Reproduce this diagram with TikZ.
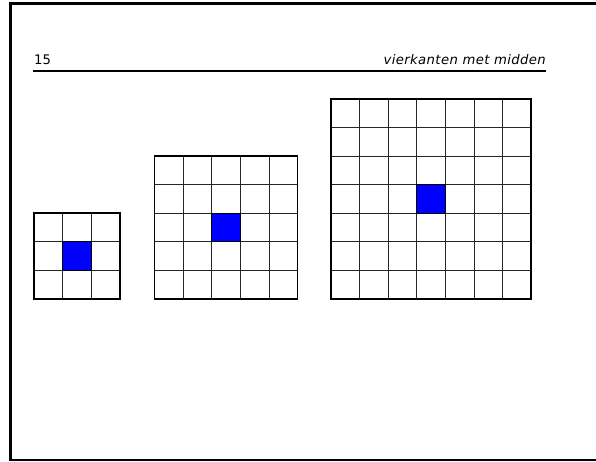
\documentclass[tikz,border=0pt]{standalone}
\usepackage{fontspec}
\setmainfont{DejaVu Sans}
\newfontfamily\headfont[LetterSpace=3]{DejaVu Sans}
\usepackage{xcolor}
\usepackage{tikz}
\usetikzlibrary{positioning}
\definecolor{midcol}{RGB}{0,0,255}

\begin{document}
\begin{tikzpicture}[
    x=1pt, y=-1pt,
    %% ── Page and header styles ──
    frame/.style={line width=2.8pt, color=black},
    headrule/.style={line width=2pt, color=black},
    headtext/.style={inner sep=0pt, font=\fontsize{13.2}{16}\selectfont},
    %% ── Grid styles ──
    cellline/.style={line width=0.8pt, color=black!85},
    outer/.style={line width=1.6pt, color=black},
    midcell/.style={fill=midcol, draw=black, line width=0.8pt},
]
\useasboundingbox (0,0) rectangle (596,462);

% ── Page frame (right side runs off the page) ──
\draw[frame] (600,3.5) -- (10.5,3.5) -- (10.5,460) -- (600,460);

% ── Header ──
\node[headtext, anchor=base west] (pagenum) at (34,65)  {15};
\node[headtext, anchor=base east] (title)   at (546,65) {\headfont\itshape vierkanten met midden};
\draw[headrule] (33,70.7) -- (546,70.7);

% ── Squares: size / left / top ──
\def\cell{28.6}
\foreach \n/\xo/\yo in {3/34/213.2, 5/154.5/156, 7/331/98.8} {
    \pgfmathsetmacro\w{\n*\cell}
    \pgfmathtruncatemacro\m{\n-1}
    \pgfmathtruncatemacro\c{(\n-1)/2}
    \foreach \i in {1,...,\m} {
        \draw[cellline] (\xo+\i*\cell, \yo) -- ++(0,\w);
        \draw[cellline] (\xo, \yo+\i*\cell) -- ++(\w,0);
    }
    \draw[midcell] (\xo+\c*\cell, \yo+\c*\cell) rectangle ++(\cell,\cell);
    \draw[outer] (\xo,\yo) rectangle ++(\w,\w);
}

\end{tikzpicture}
\end{document}
